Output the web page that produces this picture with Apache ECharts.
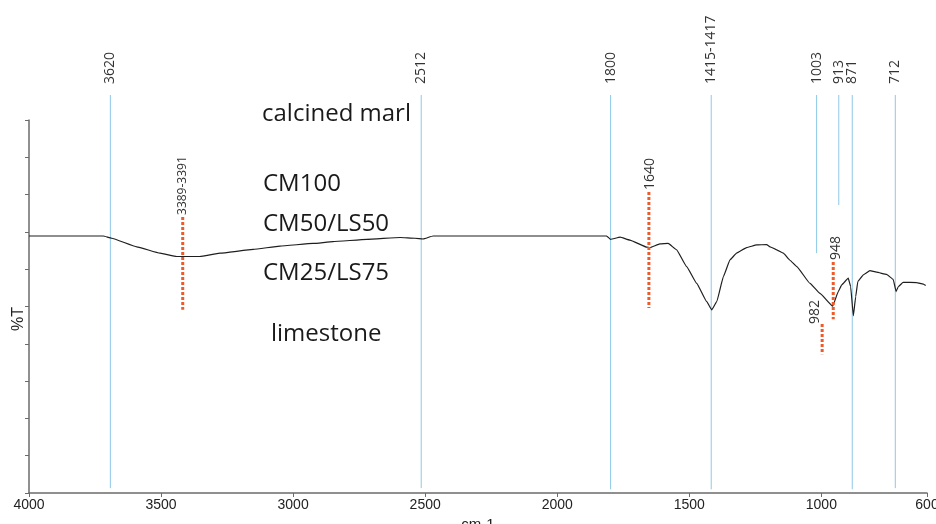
<!DOCTYPE html>
<html><head><meta charset="utf-8">
<script src="https://cdn.jsdelivr.net/npm/echarts@6/dist/echarts.min.js"></script>
<style>html,body{margin:0;padding:0;background:#fff}#c{width:936px;height:524px}</style>
</head><body><div id="c"></div>
<script>
// ---- data ----
const wavenumbers = [4000, 3719, 3687, 3592, 3504, 3441, 3353, 3277, 3151, 3050, 2924, 2849, 2721, 2595, 2539, 2508, 2470, 2200, 1900, 1813, 1798, 1762, 1725, 1661, 1649, 1611, 1580, 1548, 1510, 1472, 1434, 1415, 1396, 1371, 1346, 1321, 1283, 1245, 1207, 1194, 1169, 1144, 1119, 1093, 1043, 1005, 957, 936, 923, 898, 889, 879, 870, 862, 841, 816, 791, 753, 728, 717, 709, 690, 639, 614, 605];
const transmittance = [6.89, 6.89, 6.83, 6.60, 6.43, 6.34, 6.34, 6.43, 6.53, 6.62, 6.69, 6.74, 6.80, 6.85, 6.83, 6.81, 6.89, 6.89, 6.89, 6.89, 6.80, 6.86, 6.78, 6.59, 6.58, 6.68, 6.69, 6.52, 6.07, 5.62, 5.13, 4.91, 5.13, 5.80, 6.25, 6.43, 6.58, 6.65, 6.66, 6.60, 6.52, 6.43, 6.24, 6.07, 5.62, 5.35, 5.01, 5.40, 5.58, 5.76, 5.53, 4.75, 5.26, 5.67, 5.85, 5.96, 5.92, 5.86, 5.73, 5.40, 5.53, 5.65, 5.64, 5.60, 5.56];

const bandLabels = ['3620', '2512', '1800', '1415-1417', '1003', '913', '871', '712'];
const bandPositions = [3692, 2515, 1798, 1417, 1018, 934, 883, 720];
const bandLineEnds = [0.13, 0.13, 0.1, 0.1, 6.43, 7.72, 0.1, 0.13];
const bandTop = 10.67;

const peakLabels = ['3389-3391', '1640', '948', '982'];
const peakPositions = [3418, 1653, 955, 997];
const peakTops = [7.40, 8.07, 6.19, 4.53];
const peakBottoms = [4.91, 4.96, 4.66, 3.72];

const sampleNames = ['calcined marl', 'CM100', 'CM50/LS50', 'CM25/LS75', 'limestone'];

// ---- layout / style config ----
const sampleNamePos = [[262, 114], [263, 184], [263, 224], [263, 273], [271, 334]];
const peakLabelLayout = [
  {dx: 0, dy: -2, size: 12},
  {dx: 1, dy: -2, size: 14},
  {dx: 3, dy: -2, size: 14},
  {dx: -7, dy: 0, size: 14}
];

const chart = echarts.init(document.getElementById('c'), null, {renderer: 'canvas'});
const spectrum = wavenumbers.map((w, i) => [w, transmittance[i]]);

chart.setOption({
  animation: false,
  backgroundColor: '#ffffff',
  grid: {left: 29, right: 9, top: 120, bottom: 31, containLabel: false, outerBoundsMode: 'none'},
  xAxis: {
    type: 'value', min: 600, max: 4000, inverse: true, splitNumber: 7,
    name: 'cm-1', nameLocation: 'middle', nameGap: 20,
    nameTextStyle: {fontSize: 15, color: '#222', fontFamily: 'Liberation Sans'},
    axisLine: {lineStyle: {color: '#6b6b6b', width: 1.5}},
    axisTick: {length: 4, lineStyle: {color: '#6b6b6b', width: 1}},
    axisLabel: {color: '#222', fontSize: 14, fontFamily: '"Liberation Sans Narrow", "Liberation Sans", sans-serif', margin: 5, showMinLabel: true, showMaxLabel: true, hideOverlap: false,
      formatter: function (v) { return String(v); }},
    splitLine: {show: false}
  },
  yAxis: {
    type: 'value', min: 0, max: 10, interval: 1,
    axisLine: {show: true, lineStyle: {color: '#6b6b6b', width: 1.5}},
    axisTick: {show: true, length: 4, lineStyle: {color: '#6b6b6b', width: 1}},
    axisLabel: {show: false},
    splitLine: {show: false}
  },
  graphic: sampleNames.map((n, i) => ({
    type: 'text', x: sampleNamePos[i][0], y: sampleNamePos[i][1],
    style: {text: n, fill: '#1a1a1a', font: '24px "Open Sans"', verticalAlign: 'middle', align: 'left'}
  })).concat([{
    type: 'text', x: 18.5, y: 319, rotation: Math.PI / 2,
    style: {text: '%T', fill: '#222', font: '16px "Liberation Sans"', verticalAlign: 'middle', align: 'center'}
  }]),
  series: [
    {
      type: 'custom', clip: false, silent: true,
      data: bandPositions.map((p, i) => [p, bandLineEnds[i], i]),
      renderItem: function (params, api) {
        const x = api.value(0), yb = api.value(1), i = api.value(2);
        const p1 = api.coord([x, yb]);
        const p2 = api.coord([x, bandTop]);
        return {type: 'group', children: [
          {type: 'line', shape: {x1: p1[0], y1: p1[1], x2: p2[0], y2: p2[1]}, style: {stroke: '#8ec8e6', lineWidth: 1}},
          {type: 'text', x: p2[0], y: p2[1] - 11, rotation: Math.PI / 2,
           style: {text: bandLabels[i], fill: '#333', font: '14px "Open Sans"', align: 'left', verticalAlign: 'middle'}}
        ]};
      }
    },
    {
      type: 'line', data: spectrum, showSymbol: false, smooth: 0.1, smoothMonotone: 'x',
      lineStyle: {color: '#1e1e1e', width: 1.2}, silent: true, z: 3
    },
    {
      type: 'custom', clip: false, silent: true, z: 4,
      data: peakPositions.map((p, i) => [p, peakTops[i], peakBottoms[i], i]),
      renderItem: function (params, api) {
        const x = api.value(0), yt = api.value(1), yb = api.value(2), i = api.value(3);
        const pt = api.coord([x, yt]);
        const pb = api.coord([x, yb]);
        const L = peakLabelLayout[i];
        return {type: 'group', children: [
          {type: 'line', shape: {x1: pt[0], y1: pt[1], x2: pb[0], y2: pb[1]}, style: {stroke: '#f05a28', lineWidth: 3, lineDash: [3, 2]}},
          {type: 'text', x: pt[0] + L.dx, y: pt[1] + L.dy, rotation: Math.PI / 2,
           style: {text: peakLabels[i], fill: '#333', font: L.size + 'px "Open Sans"', align: 'left', verticalAlign: 'middle'}}
        ]};
      }
    }
  ]
});
</script>
</body></html>
